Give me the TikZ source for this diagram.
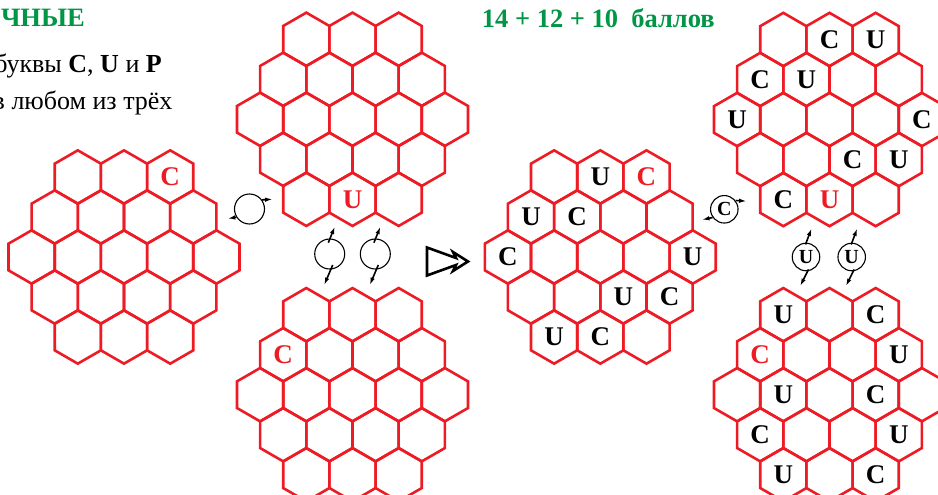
\documentclass[tikz,border=0pt]{standalone}
\usepackage{fontspec}
\setmainfont{Liberation Serif}
\usetikzlibrary{arrows.meta}
\definecolor{hexred}{RGB}{237,28,36}
\definecolor{titlegreen}{RGB}{0,150,70}

% board of 19 cells, rows 3-4-5-4-3, centred at (#2,#3)
\newcommand{\hexboard}[3]{%
  \foreach \r/\n in {0/3,1/4,2/5,3/4,4/3}
    \foreach \c in {1,...,\n}
      \draw[hexline] ({#2+(\c-(\n+1)/2)*46.19},{#3+(\r-2)*40})
        +(30:26.67) -- +(90:26.67) -- +(150:26.67) -- +(210:26.67) -- +(270:26.67) -- +(330:26.67) -- cycle;
}
% letters in a board: list of row/col/letter/colour
\newcommand{\boardletters}[4]{%
  \foreach \r/\c/\l/\col in {#4} {
    \pgfmathsetmacro\dx{#2+(\c-(4-abs(\r-2))/2)*46.19}
    \pgfmathsetmacro\dy{#3+(\r-2)*40}
    \node[cellletter, text=\col] (#1-\r-\c) at (\dx,\dy) {\l};
  }
}

\begin{document}
\begin{tikzpicture}[x=1pt, y=-1pt, >={Latex[length=8pt,width=4.4pt]},
  hexline/.style={draw=hexred, line width=2.6pt, line join=miter},
  cellletter/.style={inner sep=0pt, font=\fontsize{27}{27}\selectfont\bfseries},
  rotcircle/.style={circle, draw, line width=1.1pt, minimum size=30pt, inner sep=0pt},
  rotletter/.style={rotcircle, minimum size=27.5pt, font=\fontsize{20}{20}\selectfont\bfseries},
  rotarrow/.style={->, line width=1.6pt},
  txt/.style={inner sep=0pt, anchor=base east, font=\fontsize{26}{26}\selectfont}]
	\useasboundingbox (0,0) rectangle (938,495);
	%Texts
	\node[txt, text=titlegreen, font=\fontsize{26.5}{26.5}\selectfont\bfseries] (head) at (85,27) {ЧНЫЕ};
	\node[txt] (line1) at (162,72.7) {буквы \textbf{C}, \textbf{U} и \textbf{P}};
	\node[txt] (line2) at (172.7,110) {в любом из трёх};
	\node[inner sep=0pt, anchor=base west, text=titlegreen, font=\fontsize{26.5}{26.5}\selectfont\bfseries] (score) at (481.7,27.3) {14 + 12 + 10 \ баллов};
	%Boards
	\hexboard{L}{124}{257}
	\hexboard{TM}{352.5}{119.3}
	\hexboard{BM}{352.5}{394.7}
	\hexboard{RM}{600.3}{257}
	\hexboard{TR}{829.5}{119.5}
	\hexboard{BR}{829.5}{394.7}
	%Letters
	\boardletters{L}{124}{257}{0/2/C/hexred}
	\boardletters{TM}{352.5}{119.3}{4/1/U/hexred}
	\boardletters{BM}{352.5}{394.7}{1/0/C/hexred}
	\boardletters{RM}{600.3}{257}{0/1/U/black, 0/2/C/hexred, 1/0/U/black, 1/1/C/black, 2/0/C/black, 2/4/U/black,
		3/2/U/black, 3/3/C/black, 4/0/U/black, 4/1/C/black}
	\boardletters{TR}{829.5}{119.5}{0/1/C/black, 0/2/U/black, 1/0/C/black, 1/1/U/black, 2/0/U/black, 2/4/C/black,
		3/2/C/black, 3/3/U/black, 4/0/C/black, 4/1/U/hexred}
	\boardletters{BR}{829.5}{394.7}{0/0/U/black, 0/2/C/black, 1/0/C/hexred, 1/3/U/black, 2/1/U/black, 2/3/C/black,
		3/0/C/black, 3/3/U/black, 4/0/U/black, 4/2/C/black}
	%Moves
	\node[rotcircle] (flip) at (249.5,209) {};
	\draw[rotarrow] (flip.36) -- +(11,-0.7);
	\draw[rotarrow] (flip.212) -- +(-9,1.4);
	\node[rotcircle] (turn1) at (329.7,254) {};
	\node[rotcircle] (turn2) at (375.3,254) {};
	\foreach \t in {turn1,turn2} {
		\draw[rotarrow] (\t.center) ++(-1.4,-11.3) -- ++(6.7,-16.5);
		\draw[rotarrow] (\t.center) ++(3,11) -- ++(-8.7,20.5);
	}
	\node[rotletter] (flipC) at (724.3,209.3) {C};
	\draw[rotarrow] (flipC.38) -- +(11.5,0.7);
	\draw[rotarrow] (flipC.215) -- +(-11,2.4);
	\node[rotletter] (turnU1) at (806,257) {U};
	\node[rotletter] (turnU2) at (851.7,257) {U};
	\foreach \t in {turnU1,turnU2} {
		\draw[rotarrow] (\t.center) ++(-0.5,-12.5) -- ++(6.2,-16.5);
		\draw[rotarrow] (\t.center) ++(2.5,12.5) -- ++(-8.5,17);
	}
	%Result arrow
	\draw[line width=2.6pt, line join=miter] (427,247.5) -- (456,258) -- (453,252) -- (468,261.5) -- (453,271) -- (456,265) -- (427,275.5) -- cycle;
\end{tikzpicture}
\end{document}
